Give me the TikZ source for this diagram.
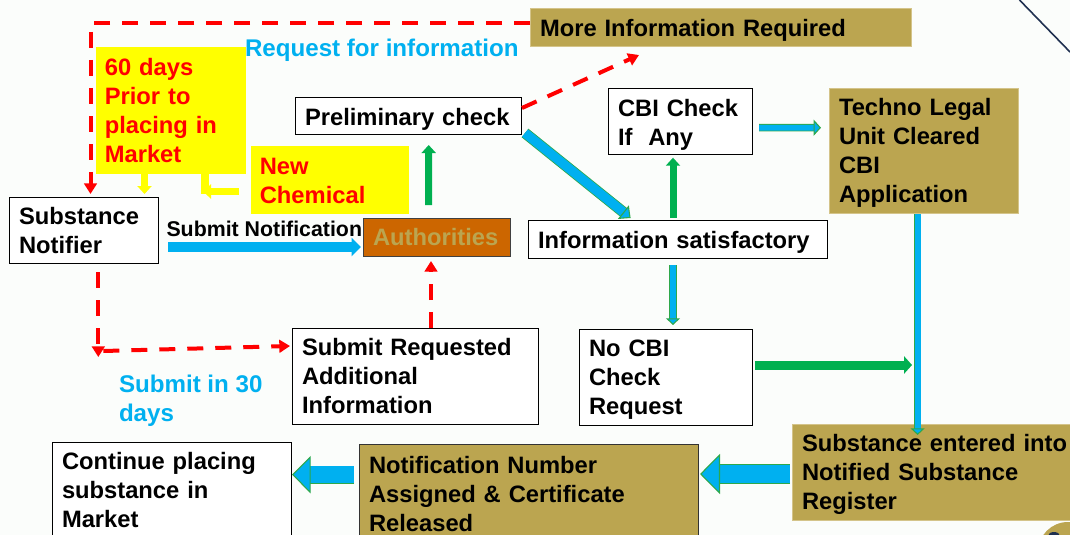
\documentclass[tikz,border=0pt]{standalone}
\usepackage{fontspec}
\setmainfont{Liberation Sans}
\usepackage{tikz}
\usetikzlibrary{arrows.meta}
\definecolor{pagebg}{RGB}{251,253,251}
\definecolor{goldfill}{RGB}{187,165,80}
\definecolor{goldedge}{RGB}{212,196,138}
\definecolor{orangefill}{RGB}{204,102,0}
\definecolor{skyblue}{RGB}{0,176,240}
\definecolor{flowgreen}{RGB}{0,176,80}
\definecolor{edgegreen}{RGB}{46,168,74}
\definecolor{navyline}{RGB}{31,48,80}
\definecolor{noteyellow}{RGB}{255,255,0}
\definecolor{flowred}{RGB}{255,0,0}
\tikzset{every picture/.style={line width=0.75pt}}
\tikzset{
  boxtext/.style={font=\fontsize{17.8}{21.75}\bfseries\selectfont,anchor=north west,align=left,inner ysep=0pt,inner xsep=7pt},
  labeltext/.style={boxtext,inner xsep=0pt,text=skyblue,font=\fontsize{18.1}{21.75}\bfseries\selectfont},
  whitebox/.style 2 args={boxtext,draw=black,fill=white,line width=1pt,minimum width=#1*0.75pt-1pt,text width=#1*0.75pt-15pt,minimum height=#2*0.75pt-1pt},
  goldbox/.style 2 args={boxtext,draw=goldedge,fill=goldfill,line width=1pt,minimum width=#1*0.75pt-1pt,text width=#1*0.75pt-15pt,minimum height=#2*0.75pt-1pt},
  yellowbox/.style 2 args={boxtext,fill=noteyellow,text=flowred,minimum width=#1*0.75pt,text width=#1*0.75pt-14pt,minimum height=#2*0.75pt},
  drop/.style={execute at begin node={\rule{0pt}{\dimexpr13pt+#1pt\relax}}},
  redflow/.style={draw=flowred,line width=3pt,dash pattern=on 12pt off 9pt,-{Triangle[length=8pt,width=9.5pt,fill=flowred]}},
  greenflow/.style={draw=flowgreen,line width=5.25pt,-{Triangle[length=6pt,width=10.5pt,fill=flowgreen]}},
  yellowflow/.style={draw=noteyellow,line width=5.6pt,-{Triangle[length=6pt,width=10.5pt,fill=noteyellow]}},
  blueflow/.style={draw=skyblue,line width=7pt,-{Triangle[length=7pt,width=13.5pt,fill=skyblue]}},
  edgedflow/.style args={#1 and #2 and #3}{draw=skyblue,line width=#1,
    preaction={draw=edgegreen,line width=#1+1.2pt,-,shorten >=#2-1pt},
    -{Triangle[length=#2,width=#3,fill=skyblue,color=edgegreen,line width=0.8pt]}}
}
\begin{document}
\begin{tikzpicture}[x=0.75pt,y=0.75pt,yscale=-1,xscale=1]
  \fill [pagebg] (0,0) rectangle (1070,535);
  \useasboundingbox (0,0) rectangle (1070,535);

  %Yellow notes
  \node (prior) at (95,47) [yellowbox={150}{126}] {60 days\\Prior to\\placing in\\Market};
  \node (chemical) at (250,145) [yellowbox={158}{68},drop=1.5] {New\\Chemical};

  %Boxes
  \node (notifier) at (9,197) [whitebox={150}{67}] {Substance\\Notifier};
  \node (prelim) at (295,97) [whitebox={227}{38},drop=4.5] {Preliminary check};
  \node (authorities) at (363,218) [whitebox={148}{39},draw=black!75,fill=orangefill,text=goldfill] {Authorities};
  \node (satisfactory) at (528,220) [whitebox={300}{39},drop=4.5] {Information satisfactory};
  \node (cbi) at (608,88) [whitebox={145}{67},drop=4.5] {CBI Check\\If~~Any};
  \node (nocbi) at (579,329) [whitebox={174}{97},drop=3] {No CBI\\Check\\Request};
  \node (requested) at (292,328) [whitebox={247}{97}] {Submit Requested\\Additional\\Information};
  \node (continue) at (52,442) [whitebox={240}{97}] {Continue placing\\substance in\\Market};
  \node (more) at (530,8) [goldbox={382}{39},drop=4.5] {More Information Required};
  \node (techno) at (829,88) [goldbox={190}{126},drop=3] {Techno Legal\\Unit Cleared\\CBI\\Application};
  \node (register) at (792,424) [goldbox={290}{97},drop=3] {Substance entered into\\Notified Substance\\Register};
  \node (number) at (359,444) [goldbox={340}{97},draw=black!80,drop=1.5] {Notification Number\\Assigned \& Certificate\\Released};

  %Labels
  \node (requestlabel) at (244.5,39) [labeltext] {Request for information};
  \node (thirtylabel) at (118.5,375) [labeltext] {Submit in 30\\days};
  \node (submitlabel) at (166,221) [boxtext,inner xsep=0pt,font=\fontsize{16}{18}\bfseries\selectfont] {Submit Notification};

  %Free ends
  \coordinate (moretip) at (639,55);
  \coordinate (bendnotifier) at (98.3,351);

  %Red dashed
  \draw [redflow] ([shift={(0,-4)}]more.west) -- ++(-439.5,0) -- ([shift={(6.5,-3)}]notifier.north);
  \draw [redflow] ([shift={(0,-8)}]prelim.east) -- (moretip);
  \draw [redflow] ([shift={(14.3,8)}]notifier.south) -- ([shift={(0,6)}]bendnotifier);
  \draw [redflow] ([shift={(5,0)}]bendnotifier) -- ([shift={(-2,-30.5)}]requested.west);
  \draw [redflow] ([shift={(15.5,0)}]requested.north) -- ([shift={(-6,4)}]authorities.south);

  %Yellow arrows
  \draw [yellowflow] ([shift={(-26,0)}]prior.south) -- ([shift={(-26,20)}]prior.south);
  \draw [yellowflow,-] ([shift={(34.7,0)}]prior.south) -- ([shift={(34.7,20)}]prior.south);
  \draw [yellowflow] ([shift={(-11,12)}]chemical.west) -- ([shift={(-47,12)}]chemical.west);

  %Flow arrows
  \draw [greenflow] ([shift={(-8.3,-13)}]authorities.north) -- ([shift={(20.2,10)}]prelim.south);
  \draw [greenflow] ([shift={(-5,-2)}]satisfactory.north) -- ([shift={(-7.5,2.7)}]cbi.south);
  \draw [greenflow,line width=6.75pt,-{Triangle[length=6pt,width=13pt,fill=flowgreen]}] ([shift={(2,-12.5)}]nocbi.east) -- ([shift={(-12,-12.5)}]nocbi.east -| techno.south);
  \draw [blueflow] ([shift={(9,16.5)}]notifier.east) -- ([shift={(-2,9.5)}]authorities.west);
  \draw [edgedflow=7pt and 7pt and 13pt] ([shift={(3,-2)}]prelim.south east) -- ([shift={(-47.4,-2)}]satisfactory.north);
  \draw [edgedflow=4.4pt and 5pt and 10.5pt] ([shift={(-5,6)}]satisfactory.south) -- ([shift={(7,-4)}]nocbi.north);
  \draw [edgedflow=4.4pt and 5.5pt and 12pt] ([shift={(6,6.2)}]cbi.east) -- ([shift={(-8,-23.3)}]techno.west);
  \draw [edgedflow=4.4pt and 5pt and 10.5pt] ([shift={(-6.4,0)}]techno.south) -- ([shift={(-19.4,11)}]register.north);
  \draw [edgedflow=14pt and 15pt and 30pt] ([shift={(-2,1.5)}]register.west) -- ([shift={(1,-18.5)}]number.east);
  \draw [edgedflow=12.5pt and 14pt and 28pt] ([shift={(-5,-17.8)}]number.west) -- ([shift={(0,-15.8)}]continue.east);

  %Corner marks
  \draw [navyline,line width=1.2pt] (1019.5,0) -- (1070,52);
  \fill [goldfill] (1068,552) circle (30);
  \fill [navyline] (1054,536) ellipse (6 and 4);
\end{tikzpicture}
\end{document}
